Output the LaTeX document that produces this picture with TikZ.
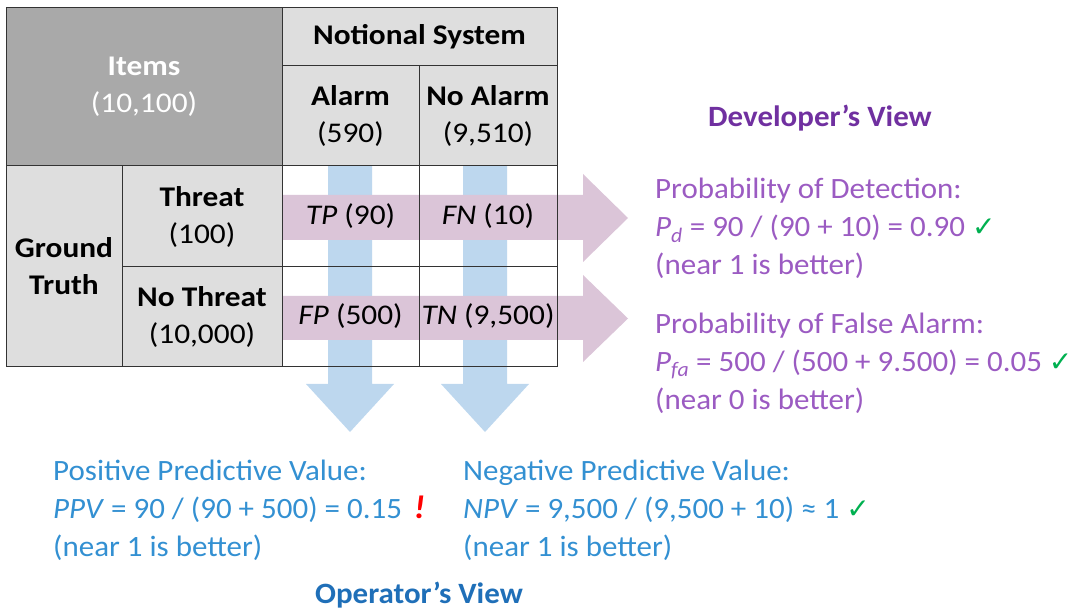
\documentclass[tikz,border=0pt]{standalone}
\usepackage{fontspec}
\setmainfont{Carlito}[FakeStretch=1.05]
\newfontfamily\tablefont{Carlito}[FakeStretch=1.10]
\newfontfamily\symfont{DejaVu Sans}
\definecolor{itemsgray}{HTML}{A9A9A9}
\definecolor{hdrgray}{HTML}{DEDEDE}
\definecolor{gridc}{HTML}{333333}
\definecolor{arrblue}{HTML}{BDD7EE}
\definecolor{arrpink}{HTML}{DBC5D8}
\definecolor{devpurple}{HTML}{9B5BC2}
\definecolor{devtitle}{HTML}{7030A0}
\definecolor{opblue}{HTML}{3390D2}
\definecolor{optitle}{HTML}{1F6FB8}
\definecolor{okgreen}{HTML}{00B050}
\definecolor{warnred}{HTML}{FF0000}
\newcommand{\chk}{{\color{okgreen}\symfont\fontsize{28}{28}\selectfont ✓}}
\tikzset{
  cellbox/.style={inner sep=0pt, outer sep=0pt, anchor=north west, align=center,
    font=\tablefont\fontsize{28.5}{37}\selectfont},
  gridline/.style={draw=gridc, line width=1pt},
  celltext/.style={font=\tablefont\fontsize{28.5}{34}\selectfont, inner sep=0pt},
  viewtext/.style={anchor=base west, align=left, inner sep=0pt, font=\fontsize{29.5}{38}\selectfont},
  viewtitle/.style={anchor=base, inner sep=0pt, font=\fontsize{29.5}{34}\selectfont\bfseries},
}
\begin{document}
\begin{tikzpicture}[x=1pt,y=-1pt]
\useasboundingbox (0,0) rectangle (1076,609);
% header cells
\node[cellbox, fill=itemsgray, minimum width=276, minimum height=158, text=white] (items) at (6,8) {\textbf{Items}\\(10,100)};
\node[cellbox, fill=hdrgray, minimum width=275, minimum height=58] (notional) at (282,8) {\textbf{Notional System}};
\node[cellbox, fill=hdrgray, minimum width=137, minimum height=100] (alarm) at (282,66) {\textbf{Alarm}\\(590)};
\node[cellbox, fill=hdrgray, minimum width=138, minimum height=100] (noalarm) at (419,66) {\textbf{No Alarm}\\(9,510)};
\node[cellbox, fill=hdrgray, minimum width=116, minimum height=201] (ground) at (6,166) {\textbf{Ground}\\\textbf{Truth}};
\node[cellbox, fill=hdrgray, minimum width=160, minimum height=101] (threat) at (122,166) {\textbf{Threat}\\(100)};
\node[cellbox, fill=hdrgray, minimum width=160, minimum height=100] (nothreat) at (122,267) {\textbf{No Threat}\\(10,000)};
% data cells (background only)
\node[cellbox, fill=white, minimum width=137, minimum height=101] (tp) at (282,166) {};
\node[cellbox, fill=white, minimum width=138, minimum height=101] (fn) at (419,166) {};
\node[cellbox, fill=white, minimum width=137, minimum height=100] (fp) at (282,267) {};
\node[cellbox, fill=white, minimum width=138, minimum height=100] (tn) at (419,267) {};
% operator's view arrows (blue, downward)
\fill[arrblue] (328,166) -- (372,166) -- (372,384) -- (394,384) -- (350,432) -- (306,384) -- (328,384) -- cycle;
\fill[arrblue] (463,166) -- (507,166) -- (507,384) -- (529,384) -- (485,432) -- (441,384) -- (463,384) -- cycle;
% developer's view arrows (pink, rightward)
\fill[arrpink] (282,195) -- (583,195) -- (583,174) -- (628,218) -- (583,262) -- (583,240) -- (282,240) -- cycle;
\fill[arrpink] (282,296) -- (583,296) -- (583,275) -- (628,318.5) -- (583,362) -- (583,340) -- (282,340) -- cycle;
% grid
\foreach \c in {items,notional,alarm,noalarm,ground,threat,nothreat,tp,fn,fp,tn}
  \draw[gridline] (\c.north west) rectangle (\c.south east);
% data labels
\node[celltext] (tpl) at (tp.center) {\textit{TP} (90)};
\node[celltext] (fnl) at (fn.center) {\textit{FN} (10)};
\node[celltext] (fpl) at ([yshift=1]fp.center) {\textit{FP} (500)};
\node[celltext] (tnl) at ([yshift=1]tn.center) {\textit{TN} (9,500)};
% developer's view (anchor base = baseline of last line)
\node[viewtitle, text=devtitle] (devt) at (820,127) {Developer’s View};
\node[viewtext, text=devpurple] (pd) at (655,275) {Probability of Detection:\\
  \textit{P}\textsubscript{\textit{d}} = 90 / (90 + 10) = 0.90 \chk\\
  (near 1 is better)};
\node[viewtext, text=devpurple] (pfa) at (655,409) {Probability of False Alarm:\\
  \textit{P}\textsubscript{\textit{fa}} = 500 / (500 + 9.500) = 0.05 \chk\\
  (near 0 is better)};
% operator's view
\node[viewtext, text=opblue] (ppv) at (53,556) {Positive Predictive Value:\\
  \textit{PPV} = 90 / (90 + 500) = 0.15\hspace{12pt}{\color{warnred}\fontsize{33}{33}\selectfont\textbf{\textit{!}}}\\
  (near 1 is better)};
\node[viewtext, text=opblue] (npv) at (463,556) {Negative Predictive Value:\\
  \textit{NPV} = 9,500 / (9,500 + 10) ≈ 1 \chk\\
  (near 1 is better)};
\node[viewtitle, text=optitle] (opt) at (419,603) {Operator’s View};
\end{tikzpicture}
\end{document}
